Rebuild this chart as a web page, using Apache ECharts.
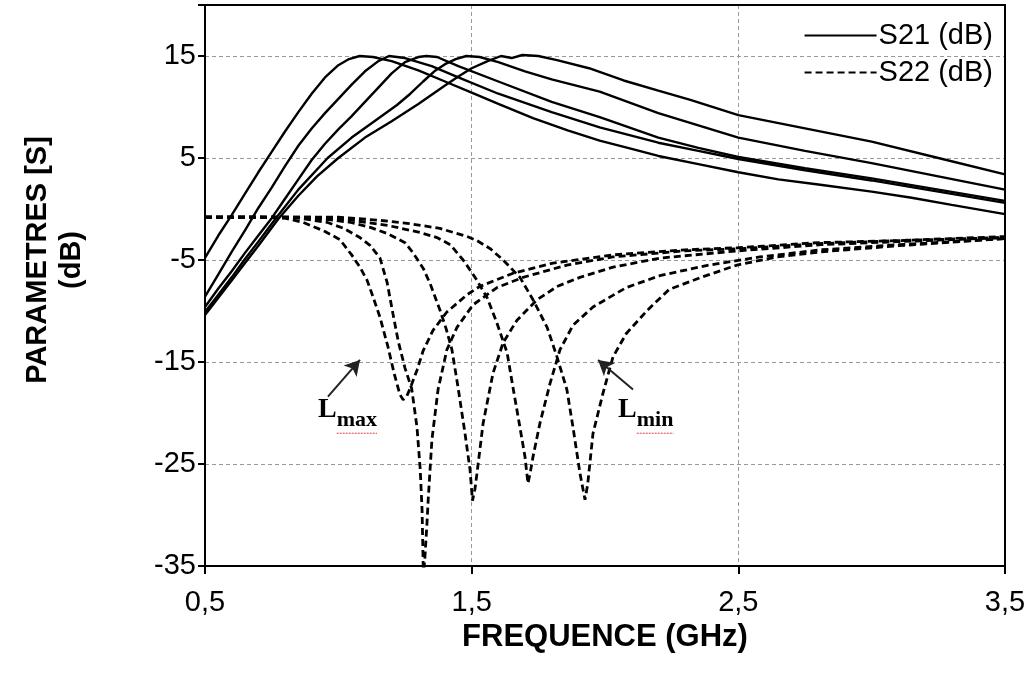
<!DOCTYPE html>
<html><head><meta charset="utf-8">
<script src="https://cdn.jsdelivr.net/npm/echarts@6/dist/echarts.min.js"></script>
<style>html,body{margin:0;padding:0;background:#fff}#c{width:1030px;height:674px}</style>
</head><body><div id="c"></div>
<script>
// ---- data: [frequency GHz, dB] ----
const s21_1 = [[0.5,-4.8],[0.55,-2.6],[0.6,-0.6],[0.65,1.5],[0.7,3.6],[0.75,5.6],[0.8,7.6],[0.85,9.5],[0.9,11.3],[0.95,12.9],[1.0,14.1],[1.04,14.7],[1.08,15.0],[1.13,14.9],[1.2,14.5],[1.3,13.6],[1.4,12.5],[1.5,11.4],[1.6,10.3],[1.73,8.9],[1.86,7.7],[1.98,6.7],[2.1,5.9],[2.2,5.2],[2.35,4.4],[2.5,3.6],[2.65,2.9],[2.8,2.4],[3.0,1.7],[3.15,1.1],[3.3,0.4],[3.5,-0.5]];
const s21_2 = [[0.5,-8.6],[0.55,-6.4],[0.6,-4.2],[0.65,-2.1],[0.7,0.1],[0.75,2.1],[0.8,4.2],[0.85,6.2],[0.9,7.9],[0.95,9.4],[1.0,10.8],[1.05,12.2],[1.1,13.5],[1.15,14.5],[1.19,15.0],[1.25,14.8],[1.35,14.0],[1.45,12.9],[1.6,11.3],[1.8,9.5],[1.98,8.0],[2.2,6.5],[2.35,5.7],[2.5,4.9],[2.75,3.8],[3.0,2.8],[3.25,1.7],[3.5,0.6]];
const s21_3 = [[0.5,-9.6],[0.55,-7.8],[0.6,-6.1],[0.65,-4.3],[0.7,-2.6],[0.75,-0.9],[0.8,1.0],[0.85,2.9],[0.9,4.8],[0.95,6.4],[1.0,7.8],[1.05,9.1],[1.1,10.5],[1.15,11.9],[1.2,13.3],[1.25,14.4],[1.3,14.9],[1.33,15.0],[1.37,14.9],[1.45,14.0],[1.6,12.5],[1.8,10.5],[1.98,9.0],[2.2,7.0],[2.35,6.0],[2.5,5.1],[2.75,4.0],[3.0,3.0],[3.25,1.9],[3.5,0.8]];
const s21_4 = [[0.5,-10.1],[0.55,-8.4],[0.6,-6.7],[0.65,-4.9],[0.7,-3.2],[0.763,-1.0],[0.85,1.9],[0.96,5.0],[1.05,7.0],[1.13,8.5],[1.22,10.2],[1.27,11.3],[1.318,12.5],[1.36,13.5],[1.4,14.2],[1.44,14.7],[1.48,15.0],[1.53,14.9],[1.6,14.4],[1.7,13.5],[1.8,12.7],[1.98,11.5],[2.2,9.4],[2.35,8.2],[2.5,7.0],[2.75,5.7],[3.0,4.5],[3.25,3.2],[3.5,1.9]];
const s21_5 = [[0.5,-10.4],[0.55,-8.7],[0.6,-7.0],[0.65,-5.3],[0.7,-3.6],[0.774,-1.0],[0.85,1.3],[0.92,3.2],[1.0,5.0],[1.1,7.0],[1.2,8.6],[1.3,10.3],[1.4,12.1],[1.45,13.0],[1.5,13.8],[1.56,14.5],[1.61,15.0],[1.65,14.8],[1.69,15.1],[1.75,15.0],[1.82,14.6],[1.94,13.8],[2.07,12.6],[2.2,11.6],[2.32,10.7],[2.5,9.2],[2.75,7.9],[3.0,6.6],[3.25,5.0],[3.5,3.4]];

const s22_1 = [[0.5,-0.8],[0.6,-0.8],[0.7,-0.8],[0.8,-0.9],[0.867,-1.3],[0.95,-2.2],[1.006,-3.0],[1.05,-4.5],[1.081,-5.7],[1.108,-7.0],[1.13,-8.6],[1.156,-10.6],[1.186,-13.5],[1.21,-16.2],[1.231,-18.2],[1.243,-18.7],[1.256,-18.4],[1.269,-17.6],[1.295,-15.8],[1.318,-13.9],[1.355,-11.9],[1.407,-10.1],[1.483,-8.4],[1.53,-7.6],[1.655,-6.3],[1.805,-5.3],[2.03,-4.5],[2.3,-4.0],[2.5,-3.8],[2.8,-3.3],[3.1,-3.1],[3.5,-2.7]];
const s22_2 = [[0.5,-0.8],[0.7,-0.8],[0.85,-0.9],[0.957,-1.3],[1.02,-1.9],[1.081,-2.8],[1.12,-3.6],[1.156,-4.8],[1.183,-7.2],[1.205,-10.3],[1.225,-13.0],[1.25,-15.6],[1.275,-17.6],[1.295,-21.4],[1.307,-25.5],[1.314,-29.5],[1.319,-36],[1.325,-34],[1.332,-31],[1.337,-28.5],[1.351,-22.6],[1.374,-17.7],[1.407,-13.8],[1.445,-11.6],[1.505,-9.4],[1.595,-7.7],[1.693,-6.7],[1.857,-5.5],[2.03,-4.7],[2.3,-4.1],[2.5,-3.9],[2.8,-3.4],[3.1,-3.1],[3.5,-2.8]];
const s22_3 = [[0.5,-0.8],[0.8,-0.8],[0.95,-1.0],[1.044,-1.3],[1.12,-1.8],[1.183,-2.4],[1.25,-3.3],[1.28,-4.3],[1.318,-5.8],[1.344,-7.3],[1.381,-9.9],[1.405,-11.8],[1.426,-13.8],[1.449,-17.5],[1.475,-22],[1.494,-25.6],[1.503,-28.6],[1.512,-27.5],[1.52,-25.9],[1.543,-21],[1.58,-16.1],[1.618,-13.1],[1.67,-10.9],[1.745,-8.9],[1.82,-7.6],[1.906,-6.7],[2.03,-5.7],[2.21,-4.8],[2.5,-4.1],[2.81,-3.5],[3.1,-3.2],[3.5,-2.8]];
const s22_4 = [[0.5,-0.8],[0.9,-0.8],[1.05,-1.1],[1.183,-1.6],[1.306,-2.3],[1.37,-2.8],[1.42,-3.5],[1.468,-5.0],[1.5,-6.2],[1.52,-7.0],[1.558,-8.7],[1.595,-11.2],[1.633,-14.1],[1.655,-17.5],[1.681,-21.4],[1.70,-24.3],[1.711,-26.9],[1.72,-25.8],[1.73,-24.3],[1.756,-21],[1.794,-17.1],[1.831,-13.8],[1.88,-11.4],[1.955,-9.6],[2.08,-7.7],[2.21,-6.5],[2.39,-5.5],[2.58,-4.7],[2.81,-4.0],[3.1,-3.5],[3.5,-2.9]];
const s22_5 = [[0.5,-0.8],[1.0,-0.8],[1.15,-1.1],[1.258,-1.4],[1.381,-1.9],[1.483,-2.7],[1.52,-3.1],[1.57,-3.9],[1.618,-5.0],[1.681,-6.7],[1.73,-8.9],[1.783,-11.6],[1.82,-14.5],[1.857,-17.7],[1.88,-21.4],[1.906,-25.9],[1.925,-28.5],[1.935,-27],[1.955,-22],[1.993,-18],[2.03,-14.5],[2.08,-12.2],[2.16,-9.9],[2.24,-7.9],[2.36,-6.7],[2.495,-5.5],[2.645,-4.7],[2.81,-4.2],[3.1,-3.6],[3.5,-2.9]];

const legendNames = ['S21 (dB)', 'S22 (dB)'];
const xTitle = 'FREQUENCE (GHz)';
const yTitle = 'PARAMETRES [S]\n(dB)';
// annotations (data coordinates)
const annotations = [
  {main:'L', sub:'max', textAt:[0.924,-21.1], arrowFrom:[0.961,-18.4], arrowTo:[1.081,-14.8]},
  {main:'L', sub:'min', textAt:[2.049,-21.1], arrowFrom:[2.105,-17.7], arrowTo:[1.974,-14.8]}
];

const FONT = "Arial, 'Liberation Sans', sans-serif";
const SERIF = "'Times New Roman', 'Liberation Serif', serif";
const chart = echarts.init(document.getElementById('c'), null, {renderer:'canvas'});

function mk21(d){ return {name:legendNames[0], type:'line', data:d, symbol:'none', silent:true, z:3,
  lineStyle:{color:'#000', width:2.4, type:'solid'}, itemStyle:{color:'#000'}}; }
function mk22(d){ return {name:legendNames[1], type:'line', data:d, symbol:'none', silent:true, z:3,
  lineStyle:{color:'#000', width:2.8, type:[7,4]}, itemStyle:{color:'#000'}}; }

const series = [s21_1,s21_2,s21_3,s21_4,s21_5].map(mk21).concat([s22_1,s22_2,s22_3,s22_4,s22_5].map(mk22));
series.push({name:'arrows', type:'line', data:[], silent:true, z:4,
  markLine:{silent:true, animation:false, symbol:['none','arrow'], symbolSize:[13,15],
    lineStyle:{color:'#222', width:2, type:'solid'}, label:{show:false},
    emphasis:{disabled:true},
    data: annotations.map(a=>[{coord:a.arrowFrom},{coord:a.arrowTo}])}});

const frameAxis = {axisLine:{show:true, onZero:false, lineStyle:{color:'#000', width:2}},
  axisTick:{show:false}, axisLabel:{show:false}, splitLine:{show:false}};

chart.setOption({
  animation:false,
  backgroundColor:'#fff',
  grid:{left:205, right:25, top:5, bottom:108, show:false, containLabel:false},
  legend:{data:legendNames, orient:'vertical', right:32, top:16, itemWidth:72, itemHeight:14, itemGap:8,
    itemStyle:{opacity:0},
    textStyle:{fontFamily:FONT, fontSize:29, color:'#000', padding:[0,0,0,-3]}, selectedMode:false},
  xAxis:[{type:'value', min:0.5, max:3.5, interval:1,
    axisLine:{show:true, onZero:false, lineStyle:{color:'#000', width:2}},
    axisTick:{show:true, length:8, lineStyle:{color:'#000', width:2}},
    splitLine:{show:true, lineStyle:{color:'#999', width:1, type:[4,3]}},
    axisLabel:{color:'#000', fontFamily:FONT, fontSize:29, margin:22, formatter:v=>String(v).replace('.',',')},
    name:xTitle, nameLocation:'middle', nameGap:52,
    nameTextStyle:{fontFamily:FONT, fontSize:31, fontWeight:'bold', color:'#000'}},
    Object.assign({type:'value', min:0.5, max:3.5, position:'top'}, frameAxis)],
  yAxis:[{type:'value', min:-35, max:20, interval:10,
    axisLine:{show:true, onZero:false, lineStyle:{color:'#000', width:2}},
    axisTick:{show:true, length:7, lineStyle:{color:'#000', width:2}},
    splitLine:{show:true, lineStyle:{color:'#999', width:1, type:[4,3]}},
    axisLabel:{color:'#000', fontFamily:FONT, fontSize:29, margin:9, formatter:v=> v===20 ? '' : String(v)}},
    Object.assign({type:'value', min:-35, max:20, position:'right'}, frameAxis)],
  series: series
});

// text annotations and y title
const ctx = document.createElement('canvas').getContext('2d');
const mainFont = "bold 28px " + SERIF;
const subFont = "bold 22px " + SERIF;
const graphics = [];
annotations.forEach(a=>{
  const p = chart.convertToPixel({gridIndex:0}, a.textAt);
  ctx.font = mainFont; const wL = ctx.measureText(a.main).width;
  ctx.font = subFont; const wS = ctx.measureText(a.sub).width;
  graphics.push({type:'text', x:p[0], y:p[1], silent:true, style:{text:a.main, font:mainFont, fill:'#000', verticalAlign:'bottom'}});
  graphics.push({type:'text', x:p[0]+wL, y:p[1]+7, silent:true, style:{text:a.sub, font:subFont, fill:'#000', verticalAlign:'bottom'}});
  graphics.push({type:'line', silent:true, shape:{x1:p[0]+wL, y1:p[1]+9, x2:p[0]+wL+wS, y2:p[1]+9}, style:{stroke:'#e04040', lineWidth:1, lineDash:[2,1]}});
});
graphics.push({type:'text', x:55, y:260, rotation:Math.PI/2, silent:true,
  style:{text:yTitle, font:"bold 29px " + FONT, fill:'#000', align:'center', verticalAlign:'middle', lineHeight:34}});
chart.setOption({graphic:graphics});
</script></body></html>
